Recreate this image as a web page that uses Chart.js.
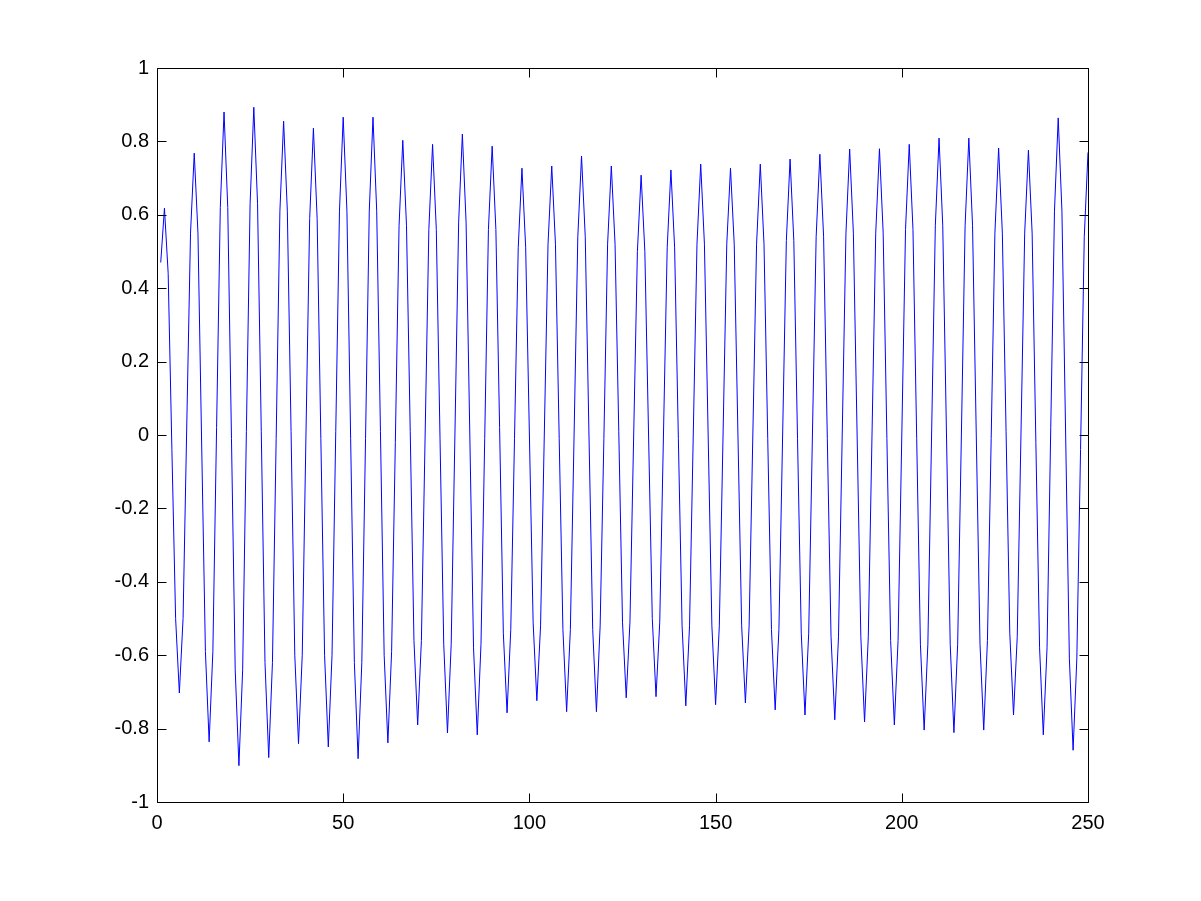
<!DOCTYPE html>
<html>
<head>
<meta charset="utf-8">
<script src="https://cdn.jsdelivr.net/npm/chart.js@4/dist/chart.umd.min.js"></script>
<style>
  body { margin: 0; background: #fff; }
  canvas { display: block; }
</style>
</head>
<body>
<canvas id="myChart" width="1201" height="901"></canvas>
<script>
// samples 1..250 (period 8, peaks at 2+8k, troughs at 6+8k)
const signal = [
  0.47, 0.618, 0.44, -0.04, -0.50, -0.703, -0.50, 0.03,
  0.55, 0.768, 0.55, -0.03, -0.59, -0.836, -0.59, 0.02,
  0.62, 0.88, 0.62, -0.01, -0.64, -0.901, -0.64, 0.01,
  0.63, 0.893, 0.63, 0.01, -0.62, -0.879, -0.62, -0.01,
  0.61, 0.855, 0.61, 0.01, -0.60, -0.841, -0.60, 0.00,
  0.59, 0.836, 0.59, -0.01, -0.60, -0.85, -0.60, 0.01,
  0.61, 0.866, 0.61, -0.01, -0.62, -0.882, -0.62, -0.01,
  0.61, 0.866, 0.61, 0.01, -0.60, -0.839, -0.59, -0.02,
  0.57, 0.803, 0.57, 0.01, -0.56, -0.79, -0.56, 0.00,
  0.56, 0.792, 0.56, -0.01, -0.57, -0.812, -0.57, 0.00,
  0.58, 0.82, 0.58, 0.00, -0.58, -0.817, -0.57, -0.01,
  0.56, 0.787, 0.56, 0.02, -0.54, -0.757, -0.53, -0.01,
  0.51, 0.727, 0.51, 0.00, -0.51, -0.724, -0.52, 0.00,
  0.52, 0.733, 0.52, -0.01, -0.53, -0.754, -0.53, 0.00,
  0.54, 0.76, 0.54, 0.00, -0.53, -0.754, -0.52, -0.01,
  0.52, 0.733, 0.52, 0.01, -0.51, -0.716, -0.51, 0.00,
  0.50, 0.708, 0.50, 0.00, -0.50, -0.713, -0.51, 0.00,
  0.51, 0.722, 0.51, -0.01, -0.52, -0.738, -0.52, 0.00,
  0.52, 0.738, 0.52, 0.00, -0.52, -0.735, -0.52, 0.00,
  0.52, 0.727, 0.52, 0.00, -0.52, -0.73, -0.52, 0.00,
  0.52, 0.738, 0.52, -0.01, -0.53, -0.749, -0.53, 0.00,
  0.53, 0.752, 0.53, -0.01, -0.54, -0.763, -0.54, 0.00,
  0.54, 0.765, 0.54, -0.01, -0.55, -0.776, -0.55, 0.00,
  0.55, 0.779, 0.55, 0.00, -0.55, -0.782, -0.55, 0.00,
  0.55, 0.78, 0.55, -0.01, -0.56, -0.79, -0.56, 0.00,
  0.56, 0.792, 0.56, -0.01, -0.57, -0.804, -0.57, 0.00,
  0.57, 0.809, 0.57, 0.00, -0.57, -0.811, -0.57, 0.00,
  0.57, 0.809, 0.57, 0.00, -0.57, -0.804, -0.56, -0.01,
  0.55, 0.782, 0.55, 0.01, -0.54, -0.763, -0.55, 0.00,
  0.55, 0.776, 0.55, -0.02, -0.58, -0.817, -0.58, 0.02,
  0.61, 0.864, 0.61, 0.00, -0.61, -0.859, -0.61, -0.04,
  0.54, 0.77
];
const xTicks = [0, 50, 100, 150, 200, 250];
const yTicks = [-1, -0.8, -0.6, -0.4, -0.2, 0, 0.2, 0.4, 0.6, 0.8, 1];
const yTickLabels = ['-1', '-0.8', '-0.6', '-0.4', '-0.2', '0', '0.2', '0.4', '0.6', '0.8', '1'];

const points = signal.map((v, i) => ({ x: i + 1, y: v }));

// matlab style box with inward ticks on all four sides
const boxPlugin = {
  id: 'box',
  afterDraw(chart) {
    const ctx = chart.ctx;
    const a = chart.chartArea;
    const xs = chart.scales.x, ys = chart.scales.y;
    const len = 9;
    ctx.save();
    ctx.strokeStyle = '#000';
    ctx.lineWidth = 1;
    ctx.beginPath();
    const l = Math.round(a.left) + 0.5, r = Math.round(a.right) + 0.5;
    const t = Math.round(a.top) + 0.5, b = Math.round(a.bottom) + 0.5;
    ctx.rect(l, t, r - l, b - t);
    xTicks.forEach(v => {
      const px = Math.round(xs.getPixelForValue(v)) + 0.5;
      ctx.moveTo(px, b); ctx.lineTo(px, b - len);
      ctx.moveTo(px, t); ctx.lineTo(px, t + len);
    });
    yTicks.forEach(v => {
      const py = Math.round(ys.getPixelForValue(v)) + 0.5;
      ctx.moveTo(l, py); ctx.lineTo(l + len, py);
      ctx.moveTo(r, py); ctx.lineTo(r - len, py);
    });
    ctx.stroke();
    ctx.restore();
  }
};

const myChart = new Chart(document.getElementById('myChart'), {
  type: 'line',
  data: {
    datasets: [{
      data: points,
      borderColor: '#0000ff',
      borderWidth: 1,
      pointRadius: 0,
      tension: 0,
      fill: false
    }]
  },
  options: {
    responsive: false,
    animation: false,
    events: [],
    layout: { padding: { left: 0, right: 113, top: 68, bottom: 0 } },
    plugins: { legend: { display: false }, tooltip: { enabled: false } },
    scales: {
      x: {
        type: 'linear',
        min: 0,
        max: 250,
        afterBuildTicks: s => { s.ticks = xTicks.map(v => ({ value: v })); },
        afterFit: s => { s.height = 99; },
        grid: { display: false, drawTicks: false },
        border: { display: false },
        ticks: {
          color: '#000',
          padding: 9,
          maxRotation: 0,
          autoSkip: false,
          font: { family: 'Arial, "Liberation Sans", sans-serif', size: 20 }
        }
      },
      y: {
        type: 'linear',
        min: -1,
        max: 1,
        afterBuildTicks: s => { s.ticks = yTicks.map(v => ({ value: v })); },
        afterFit: s => { s.width = 157; },
        grid: { display: false, drawTicks: false },
        border: { display: false },
        ticks: {
          color: '#000',
          padding: 8,
          autoSkip: false,
          callback: (v, i) => yTickLabels[i],
          font: { family: 'Arial, "Liberation Sans", sans-serif', size: 20 }
        }
      }
    }
  },
  plugins: [boxPlugin]
});
</script>
</body>
</html>
